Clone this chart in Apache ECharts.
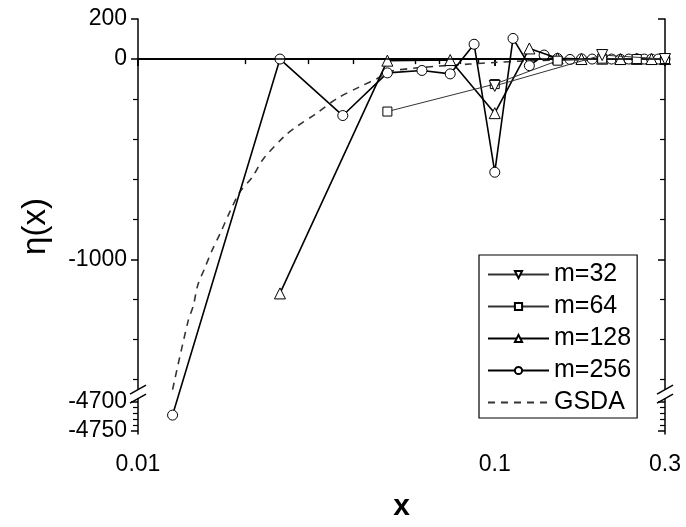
<!DOCTYPE html>
<html><head><meta charset="utf-8">
<script src="https://cdn.jsdelivr.net/npm/echarts@6/dist/echarts.min.js"></script>
<style>html,body{margin:0;padding:0;background:#fff}#c{width:686px;height:527px}</style>
</head><body><div id="c"></div>
<script>
// ---- data ----
const x32 = [0.1, 0.2, 0.3];
const m32 = [-134, 20, 0];
const x64 = [0.05, 0.1, 0.15, 0.2, 0.25, 0.3];
const m64 = [-262, -125, -8, 2, 0, 0];
const x128 = [0.025, 0.05, 0.075, 0.1, 0.125, 0.15, 0.175, 0.2, 0.225, 0.25, 0.275, 0.3];
const m128 = [-1170, -8, -5, -270, 53, 4, 0, 2, 0, 1, 0, 0];
const x256 = [0.0125, 0.025, 0.0375, 0.05, 0.0625, 0.075, 0.0875, 0.1, 0.1125, 0.125, 0.1375, 0.15,
              0.1625, 0.175, 0.1875, 0.2, 0.2125, 0.225, 0.2375, 0.25, 0.2625, 0.275, 0.2875, 0.3];
const m256 = [-4723, 0, -282, -69, -57, -74, 74, -565, 103, -33, 20, 3,
              -2, 1, 0, 2, 0, -1, 0, 1, 0, 0, 0, 0];
const xGSDA = [0.0125, 0.0138, 0.0143, 0.0147, 0.0154, 0.0161, 0.0170, 0.0181, 0.0193, 0.0209, 0.0224,
               0.0258, 0.0280, 0.0317, 0.0361, 0.0419, 0.0467, 0.0508, 0.060, 0.070, 0.085, 0.1, 0.12, 0.15, 0.2, 0.3];
const gsda = [-1650, -1312, -1229, -1130, -1042, -958, -870, -762, -663, -590, -501,
              -383, -334, -270, -197, -138, -98, -62, -45, -35, -25, -17, -10, -5, -2, 0];

const yTickValues = [200, 0, -1000, -4700, -4750];
const yTickLabels = ['200', '0', '-1000', '-4700', '-4750'];
const yMinorValues = [-200, -400, -600, -800, -1200, -1400, -1600, -4710, -4720, -4730, -4740];
const xTickValues = [0.01, 0.1, 0.3];
const xTickLabels = ['0.01', '0.1', '0.3'];
const xMinorValues = [0.02, 0.03, 0.04, 0.05, 0.06, 0.07, 0.08, 0.09, 0.2];

// ---- y-axis break: upper segment [-1650, 200], lower segment [-4755, -4695] stretched ----
const UPPER_END = -1650, LOWER_TOP = -4695, LOWER_MIN = -4755, Y_MAX = 200;
const GAP = 45, K = 2.948;
function T(v) { return v >= UPPER_END ? v : UPPER_END - GAP - (LOWER_TOP - v) * K; }
const Y_MIN = T(LOWER_MIN);

const FONT = '"Liberation Sans", Arial, sans-serif';
const pts = (xs, ys) => xs.map((x, i) => [x, T(ys[i])]);
const yLab = v => { for (let i = 0; i < yTickValues.length; i++) if (Math.abs(T(yTickValues[i]) - v) < 1e-6) return yTickLabels[i]; return ''; };
const xLab = v => { for (let i = 0; i < xTickValues.length; i++) if (Math.abs(xTickValues[i] - v) < 1e-9) return xTickLabels[i]; return ''; };

const baseX = { type: 'log', logBase: 10, min: 0.01, max: 0.3, splitLine: { show: false } };
const baseY = { type: 'value', min: Y_MIN, max: Y_MAX, splitLine: { show: false } };
const axLine = { show: true, lineStyle: { color: '#000', width: 1.5 } };

const chart = echarts.init(document.getElementById('c'));
const symStyle = { color: '#fff', borderColor: '#000', borderWidth: 1 };
const option = {
  animation: false,
  backgroundColor: '#fff',
  grid: { left: 138, right: 21, top: 19, bottom: 86 },
  xAxis: [
    Object.assign({}, baseX, { position: 'bottom', axisLine: axLine,
      axisTick: { show: true, inside: false, length: 7, lineStyle: { color: '#000', width: 1.5 }, customValues: xTickValues },
      axisLabel: { show: true, customValues: xTickValues, formatter: xLab, margin: 19, color: '#000', fontSize: 23, fontFamily: FONT },
      name: 'x', nameLocation: 'middle', nameGap: 58,
      nameTextStyle: { fontSize: 30, fontWeight: 'bold', color: '#000', fontFamily: FONT } }),
    Object.assign({}, baseX, { position: 'bottom', axisLine: { show: false },
      axisTick: { show: true, inside: false, length: 5, lineStyle: { color: '#000', width: 1.2 }, customValues: xMinorValues },
      axisLabel: { show: false } }),
    Object.assign({}, baseX, { position: 'top', axisLine: axLine,
      axisTick: { show: true, inside: true, length: 7, lineStyle: { color: '#000', width: 1.5 }, customValues: xTickValues },
      axisLabel: { show: false } }),
    Object.assign({}, baseX, { position: 'top', axisLine: { show: false },
      axisTick: { show: true, inside: true, length: 5, lineStyle: { color: '#000', width: 1.2 }, customValues: xMinorValues },
      axisLabel: { show: false } })
  ],
  yAxis: [
    Object.assign({}, baseY, { position: 'left', axisLine: axLine,
      axisTick: { show: true, inside: false, length: 7, lineStyle: { color: '#000', width: 1.5 }, customValues: yTickValues.map(T) },
      axisLabel: { show: true, customValues: yTickValues.map(T), formatter: yLab, margin: 11, color: '#000', fontSize: 23, fontFamily: FONT },
      name: 'η(x)', nameLocation: 'middle', nameGap: 86,
      nameTextStyle: { fontSize: 33, color: '#000', fontFamily: FONT } }),
    Object.assign({}, baseY, { position: 'left', axisLine: { show: false },
      axisTick: { show: true, inside: false, length: 5, lineStyle: { color: '#000', width: 1.2 }, customValues: yMinorValues.map(T) },
      axisLabel: { show: false } }),
    Object.assign({}, baseY, { position: 'right', axisLine: axLine,
      axisTick: { show: true, inside: true, length: 7, lineStyle: { color: '#000', width: 1.5 }, customValues: yTickValues.map(T) },
      axisLabel: { show: false } }),
    Object.assign({}, baseY, { position: 'right', axisLine: { show: false },
      axisTick: { show: true, inside: true, length: 5, lineStyle: { color: '#000', width: 1.2 }, customValues: yMinorValues.map(T) },
      axisLabel: { show: false } })
  ],
  legend: {
    orient: 'vertical', left: 479, top: 255,
    padding: [7, 6, 3, 8], itemGap: 7, itemWidth: 61, itemHeight: 9,
    borderColor: '#000', borderWidth: 1.2, borderRadius: 0, backgroundColor: '#fff',
    textStyle: { fontSize: 25, color: '#000', fontFamily: FONT },
    data: ['m=32', 'm=64', 'm=128', 'm=256',
      { name: 'GSDA', itemStyle: { opacity: 0 } }]
  },
  series: [
    { name: 'GSDA', type: 'line', data: pts(xGSDA, gsda), showSymbol: false, symbol: 'none', smooth: 0.3,
      lineStyle: { color: '#333', width: 1.6, type: [7, 6] }, itemStyle: { color: '#333' }, z: 2 },
    { name: 'm=256', type: 'line', data: pts(x256, m256), symbol: 'circle', symbolSize: 10,
      lineStyle: { color: '#000', width: 1.6 }, itemStyle: symStyle, z: 3,
      markLine: { silent: true, symbol: 'none', label: { show: false },
        lineStyle: { color: '#000', width: 1.6, type: 'solid' }, data: [{ yAxis: 0 }] } },
    { name: 'm=128', type: 'line', data: pts(x128, m128), symbol: 'triangle', symbolSize: 11,
      lineStyle: { color: '#000', width: 1.6 }, itemStyle: symStyle, z: 4 },
    { name: 'm=64', type: 'line', data: pts(x64, m64), symbol: 'rect', symbolSize: 9,
      lineStyle: { color: '#333', width: 1 }, itemStyle: symStyle, z: 5 },
    { name: 'm=32', type: 'line', data: pts(x32, m32), symbol: 'triangle', symbolRotate: 180, symbolSize: 11,
      lineStyle: { color: '#333', width: 1 }, itemStyle: symStyle, z: 6 }
  ]
};
chart.setOption(option);

// axis-break decorations (positions from the axis scales)
const pTop = chart.convertToPixel({ xAxisIndex: 0, yAxisIndex: 0 }, [0.01, UPPER_END]);
const pBot = chart.convertToPixel({ xAxisIndex: 0, yAxisIndex: 0 }, [0.01, T(LOWER_TOP)]);
const pRight = chart.convertToPixel({ xAxisIndex: 0, yAxisIndex: 0 }, [0.3, UPPER_END]);
const xl = pTop[0], xr = pRight[0], y1 = pTop[1], y2 = pBot[1];
const slash = (cx, cy) => ({ type: 'line', z: 20, shape: { x1: cx - 8, y1: cy + 4.5, x2: cx + 8, y2: cy - 4.5 },
  style: { stroke: '#000', lineWidth: 1.5 } });
chart.setOption({ graphic: [
  { type: 'rect', z: 3, silent: true, shape: { x: xl + 1, y: y1 + 1.5, width: xr - xl - 2, height: y2 - y1 - 3 }, style: { fill: '#fff' } },
  { type: 'rect', z: 19, silent: true, shape: { x: xl - 3, y: y1, width: 6, height: y2 - y1 }, style: { fill: '#fff' } },
  { type: 'rect', z: 19, silent: true, shape: { x: xr - 3, y: y1, width: 6, height: y2 - y1 }, style: { fill: '#fff' } },
  slash(xl, y1), slash(xl, y2), slash(xr, y1), slash(xr, y2)
] });
</script>
</body></html>
